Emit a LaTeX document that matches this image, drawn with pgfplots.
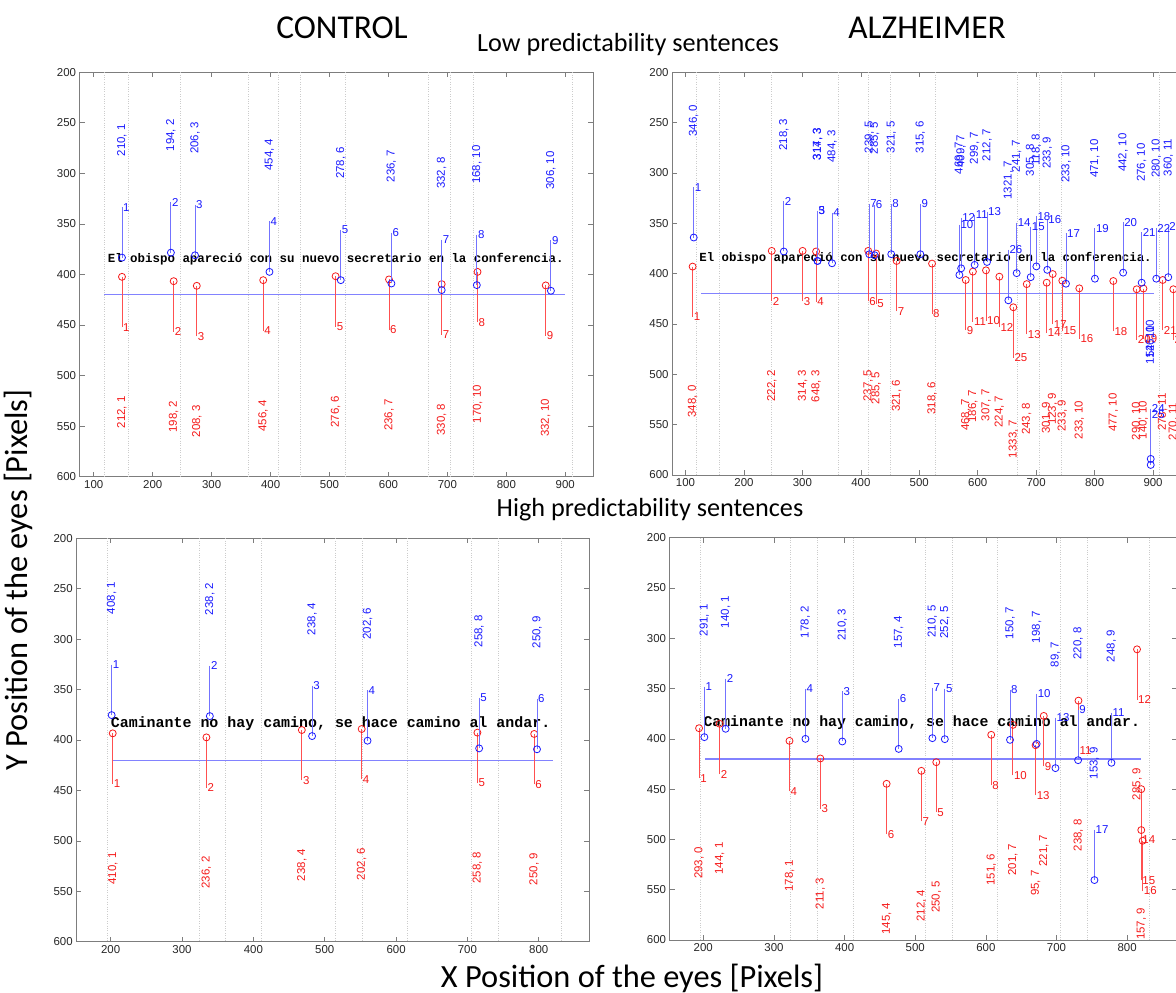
\documentclass[border=0pt]{standalone}
\usepackage{pgfplots}
\pgfplotsset{compat=1.18}
\usepackage{pgfplotstable}
\usepackage{fontspec}
\setmainfont{Liberation Sans}
\newfontfamily\calib{Carlito}
\newfontfamily\courier{Liberation Mono}

\definecolor{eyeblue}{RGB}{25,25,255}
\definecolor{eyered}{RGB}{245,25,25}
\definecolor{stemblue}{RGB}{115,115,255}
\definecolor{stemred}{RGB}{255,80,80}
\definecolor{refline}{RGB}{130,130,255}
\definecolor{frame}{RGB}{125,125,125}

\newcommand\labfont{\fontsize{11.5}{12}\selectfont}

% columns: x, y (screen pixels), fixation number, "duration (ms), word index"
\pgfplotstableread{
x y n lab
147.9 383.3 1 210,~1
230.9 378.4 2 194,~2
271.8 381.0 3 206,~3
398.1 397.4 4 454,~4
519.1 405.6 5 278,~6
605.0 408.9 6 236,~7
690.3 415.4 7 332,~8
749.9 410.5 8 168,~10
875.6 416.1 9 306,~10
}\ctlLowBlue
\pgfplotstableread{
x y n lab
147.9 402.3 1 212,~1
235.6 406.6 2 198,~2
274.8 411.2 3 208,~3
387.5 405.6 4 456,~4
510.3 401.7 5 276,~6
600.9 404.9 6 236,~7
690.3 409.5 7 330,~8
751.1 397.4 8 170,~10
866.8 410.8 9 332,~10
}\ctlLowRed
\pgfplotstableread{
x y n lab
114.0 364.1 1 346,~0
268.1 378.0 2 218,~3
325.8 387.4 5 314,~3
325.8 387.4 3 317,~3
350.7 389.7 4 484,~3
414.4 380.7 7 239,~5
423.5 381.7 6 285,~5
452.0 380.7 8 321,~5
501.8 380.7 9 315,~6
568.6 401.3 10 469,~7
571.6 394.7 12 409,~7
594.7 391.3 11 299,~7
615.9 388.4 13 212,~7
652.4 426.5 26 1321,~7
666.6 399.5 14 241,~7
690.6 403.5 15 305,~8
700.3 392.8 18 118,~8
719.0 396.2 16 233,~9
751.0 410.0 17 233,~10
800.5 405.0 19 471,~10
848.8 399.0 20 442,~10
880.5 409.0 21 276,~10
905.5 405.0 22 280,~10
926.0 403.5 23 360,~11
896.0 584.0 24 146,~10
896.0 590.0 25 152,~10
}\alzLowBlue
\pgfplotstableread{
x y n lab
112.1 393.0 1 348,~0
247.5 377.4 2 222,~2
300.3 377.4 3 314,~3
323.4 378.0 4 648,~3
412.6 377.4 6 237,~5
426.0 380.0 5 285,~5
461.2 387.4 7 321,~6
521.8 390.0 8 318,~6
579.5 406.3 9 468,~7
591.7 398.0 11 186,~7
614.1 396.7 10 307,~7
637.0 403.0 12 224,~7
660.9 433.4 25 1333,~7
683.8 410.4 13 243,~8
718.0 409.0 14 301,~9
728.3 400.4 17 123,~9
744.7 407.0 15 233,~9
773.8 414.6 16 233,~10
832.0 407.3 18 477,~10
872.0 415.5 20 290,~10
883.5 414.8 19 140,~10
916.5 406.3 21 278,~11
934.7 415.5 22 270,~11
}\alzLowRed
\pgfplotstableread{
x y n lab
201.4 375.3 1 408,~1
339.0 376.3 2 238,~2
482.3 396.1 3 238,~4
560.0 400.7 4 202,~6
716.4 408.3 5 258,~8
797.5 409.2 6 250,~9
}\ctlHighBlue
\pgfplotstableread{
x y n lab
202.9 393.4 1 410,~1
334.2 397.4 2 236,~2
467.9 390.1 3 238,~4
551.8 389.1 4 202,~6
714.0 392.7 5 258,~8
793.6 394.0 6 250,~9
}\ctlHighRed
\pgfplotstableread{
x y n lab
201.5 398.3 1 291,~1
231.6 390.0 2 140,~1
344.6 400.0 4 178,~2
396.8 402.6 3 210,~3
476.6 410.0 6 157,~4
524.3 399.3 7 210,~5
541.9 400.3 5 252,~5
634.2 401.0 8 150,~7
671.9 405.0 10 198,~7
698.5 429.1 13 89,~7
730.6 421.2 9 220,~8
777.8 423.8 11 248,~9
753.7 540.4 17 153,~9
}\alzHighBlue
\pgfplotstableread{
x y n lab
194.0 389.4 1 293,~0
223.1 385.0 2 144,~1
322.0 402.0 4 178,~1
365.7 419.5 3 211,~3
459.5 444.7 6 145,~4
508.7 431.8 7 212,~4
529.8 423.2 5 250,~5
607.6 396.0 8 151,~6
638.3 386.1 10 201,~7
670.4 406.3 13 95,~7
682.0 377.2 9 221,~7
731.1 362.0 11 238,~8
814.0 311.0 12 285,~9
820.0 450.0 14 157,~9
820.0 490.7 15 191,~9
822.0 501.3 16 196,~9
}\alzHighRed

% one eye's fixations: #1 table, #2 mark colour, #3 stem colour,
% #4 stem offset, #5 offset of the duration/word label (data units)
\newcommand{\fixations}[5]{%
  \addplot[draw=#3, color=#3, line width=0.9pt,
    quiver={u=0, v=#4, every arrow/.append style={draw=#3, line width=0.9pt}}]
    table[x=x, y=y] {#1};
  \addplot[#2, only marks, mark=o, mark size=3.5bp, mark options={line width=0.8pt}] table[x=x, y=y] {#1};
  \addplot[only marks, mark=*, mark size=0pt, mark options={draw=none, fill=none},
    point meta=explicit symbolic, nodes near coords,
    every node near coord/.append style={anchor=west, inner sep=1pt, text=#2, font=\labfont}]
    table[x=x, y expr=\thisrow{y}+(#4), meta=n] {#1};
  \addplot[only marks, mark=*, mark size=0pt, mark options={draw=none, fill=none},
    point meta=explicit symbolic, nodes near coords,
    every node near coord/.append style={rotate=90, anchor=west, inner sep=0pt, text=#2, font=\labfont}]
    table[x=x, y expr=\thisrow{y}+(#5), meta=lab] {#1};
}

\pgfplotsset{
  panel/.style={
    anchor=south west, scale only axis,
    y dir=reverse, ymin=200, ymax=600, ytick={200,250,...,600},
    tick align=inside, tick pos=both, major tick length=5bp,
    axis line style={frame, line width=0.8pt},
    every tick/.style={frame, line width=0.7pt},
    tick label style={font=\fontsize{11.5}{12}\selectfont, text=black!85},
    /pgf/number format/assume math mode=true,
    clip marker paths=true,
    extra x tick style={grid=major, major tick length=0pt,
      major grid style={dotted, gray!40, line width=0.4pt}},
    extra x tick labels={},
  },
  lowwords/.style={extra x ticks={118.5,158,247,361.5,412.5,451,527,668,705.5,743.5,911}},
  highwords/.style={extra x ticks={195.5,323.5,361,411.5,514,552,615.5,705,743.5,831.5}},
}

\newcommand\lowsentence[1]{\node[anchor=base west, inner sep=0pt,
  font=\courier\bfseries\fontsize{#1}{#1}\selectfont] at (axis cs:123.5,388)
  {El obispo apareció con su nuevo secretario en la conferencia.};}
\newcommand\highsentence[1]{\node[anchor=base west, inner sep=0pt,
  font=\courier\bfseries\fontsize{#1}{#1}\selectfont] at (axis cs:200,388)
  {Caminante no hay camino, se hace camino al andar.};}

\begin{document}
\begin{tikzpicture}

% Control, low predictability
\begin{axis}[panel, lowwords, at={(79.6bp,516.3bp)}, width=513.4bp, height=404.4bp,
  xmin=76, xmax=947, xtick={100,200,...,900}]
  \addplot[refline, line width=1.2pt] coordinates {(117.5,420) (898.9,420)};
  \lowsentence{12.5}
  \fixations{\ctlLowRed}{eyered}{stemred}{50}{150}
  \fixations{\ctlLowBlue}{eyeblue}{stemblue}{-50}{-100}
\end{axis}

% Alzheimer, low predictability
\begin{axis}[panel, lowwords, at={(672.1bp,518bp)}, width=509bp, height=402.7bp,
  xmin=77, xmax=948, xtick={100,200,...,900}]
  \addplot[refline, line width=1.2pt] coordinates {(127,420) (901,420)};
  \lowsentence{12.4}
  \fixations{\alzLowRed}{eyered}{stemred}{50}{150}
  \fixations{\alzLowBlue}{eyeblue}{stemblue}{-50}{-100}
\end{axis}

% Control, high predictability
\begin{axis}[panel, highwords, at={(76.2bp,51.3bp)}, width=513.1bp, height=403.4bp,
  xmin=151.7, xmax=870.8, xtick={200,300,...,800}]
  \addplot[refline, line width=1.2pt] coordinates {(201.4,420) (820.2,420)};
  \highsentence{15}
  \fixations{\ctlHighRed}{eyered}{stemred}{50}{150}
  \fixations{\ctlHighBlue}{eyeblue}{stemblue}{-50}{-100}
\end{axis}

% Alzheimer, high predictability
\begin{axis}[panel, highwords, at={(669.6bp,53bp)}, width=507.4bp, height=402.3bp,
  xmin=152.3, xmax=870.6, xtick={200,300,...,800}]
  \addplot[refline, line width=1.2pt] coordinates {(202.5,420) (820,420)};
  \highsentence{14.9}
  \fixations{\alzHighRed}{eyered}{stemred}{50}{150}
  \fixations{\alzHighBlue}{eyeblue}{stemblue}{-50}{-100}
\end{axis}

\node[font=\calib\fontsize{33.5}{33.5}\selectfont] at (342bp,965bp) {CONTROL};
\node[font=\calib\fontsize{33.5}{33.5}\selectfont] at (927bp,965bp) {ALZHEIMER};
\node[font=\calib\fontsize{26.3}{26.3}\selectfont] at (628bp,948bp) {Low predictability sentences};
\node[font=\calib\fontsize{26.3}{26.3}\selectfont] at (650bp,483bp) {High predictability sentences};
\node[font=\calib\fontsize{32.5}{32.5}\selectfont] at (632bp,15bp) {X Position of the eyes [Pixels]};
\node[font=\calib\fontsize{32.5}{32.5}\selectfont, rotate=90] at (18bp,413bp) {Y Position of the eyes [Pixels]};

\pgfresetboundingbox
\path[use as bounding box] (0bp,0bp) rectangle (1176bp,993bp);
\end{tikzpicture}
\end{document}
